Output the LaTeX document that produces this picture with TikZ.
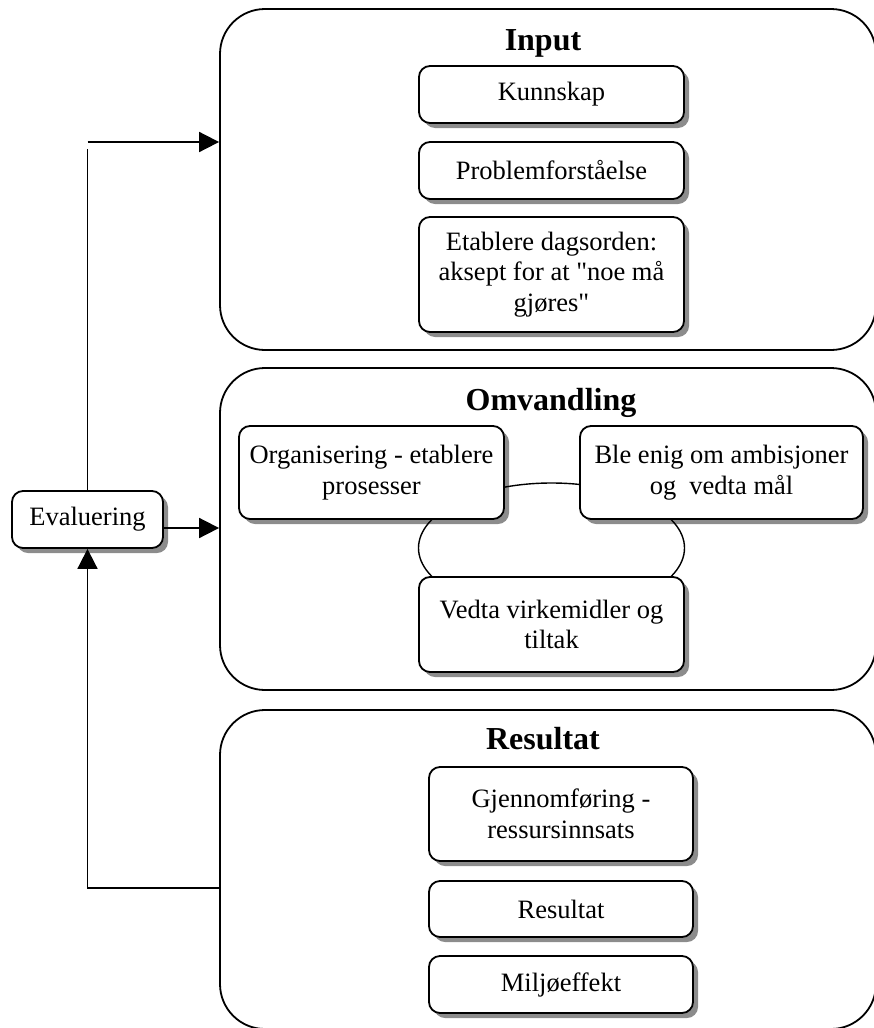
\documentclass[tikz,border=0pt]{standalone}
\usepackage{fontspec}
\setmainfont{Liberation Serif}
\usetikzlibrary{arrows.meta,shadows,shapes.geometric}

\begin{document}
\begin{tikzpicture}[x=1pt,y=-1pt,
  font=\fontsize{26.5}{30.5}\selectfont,
  stage/.style={draw, line width=1.8pt, rounded corners=45pt, inner sep=0pt},
  item/.style={draw, fill=white, line width=1.8pt, rounded corners=11pt, align=center,
    drop shadow={shadow xshift=5pt, shadow yshift=-5pt, fill=black, opacity=0.45}},
  title/.style={font=\fontsize{32}{38}\selectfont\bfseries, anchor=base},
  flow/.style={line width=1.8pt, -{Triangle[length=20pt,width=20pt]}},
  plain/.style={line width=1.8pt}]
\useasboundingbox (0,0) rectangle (873,1028);

\node[stage, minimum width=656pt, minimum height=341pt] (input) at (548,179.5) {};
\node[stage, minimum width=656pt, minimum height=322pt] (omvandling) at (548,529) {};
\node[stage, minimum width=656pt, minimum height=319pt] (resultat) at (548,869.5) {};

\node[title] (inputtitle) at (543,50) {Input};
\node[title] (omvtitle) at (551,410) {Omvandling};
\node[title] (restitle) at (543,749) {Resultat};

\node[item, minimum width=265pt, minimum height=57pt] (kunnskap) at (551.5,94.5) {Kunnskap};
\node[item, minimum width=265pt, minimum height=57pt] (forstaelse) at (551.5,170.5) {Problemforståelse};
\node[item, minimum width=265pt, minimum height=115pt] (dagsorden) at (551.5,274.5)
  {Etablere dagsorden:\\aksept for at \textquotedbl noe må\\gjøres\textquotedbl};

\node[draw, ellipse, line width=1.4pt, minimum width=266pt, minimum height=130pt] (ring) at (551.5,548) {};
\node[item, minimum width=265pt, minimum height=93pt] (organisering) at (371.5,472.5)
  {Organisering - etablere\\prosesser};
\node[item, minimum width=283pt, minimum height=93pt] (ambisjoner) at (721.5,472.5)
  {Ble enig om ambisjoner\\og~ vedta mål};
\node[item, minimum width=265pt, minimum height=95pt] (virkemidler) at (551.5,624.5)
  {Vedta virkemidler og\\tiltak};

\node[item, minimum width=264pt, minimum height=94pt] (gjennomforing) at (561,814)
  {Gjennomføring -\\ressursinnsats};
\node[item, minimum width=264pt, minimum height=56pt] (resultatbox) at (561,909) {Resultat};
\node[item, minimum width=264pt, minimum height=57pt] (miljo) at (561,984.5) {Miljøeffekt};

\node[item, minimum width=151pt, minimum height=57pt] (evaluering) at (87.5,519.5) {Evaluering};

\coordinate (topgap) at (87.5,149);
\coordinate (topturn) at (87.5,142);
\coordinate (backturn) at (87.5,888);

\draw[plain] (evaluering.north) -- (topgap);
\draw[flow] (topturn) -- (topturn -| input.west);
\draw[flow] ([yshift=-8.5pt]evaluering.east) -- ([yshift=-8.5pt]evaluering.east -| omvandling.west);
\draw[flow] (resultat.west |- backturn) -- (backturn) -- (evaluering.south);
\end{tikzpicture}
\end{document}
